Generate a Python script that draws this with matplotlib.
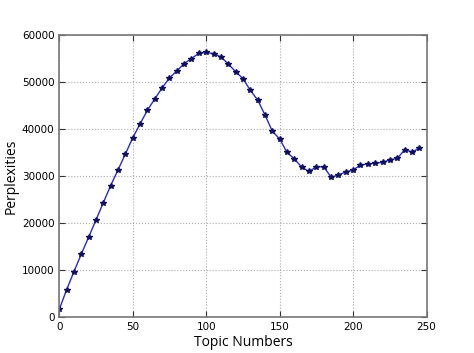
import matplotlib
matplotlib.use('Agg')
import matplotlib.pyplot as plt

# topic counts and measured perplexity
topics = list(range(0, 250, 5))
perplexities = [1600, 5800, 9650, 13400, 17000, 20650, 24350, 28000, 31350, 34700,
                38150, 41130, 44040, 46450, 48790, 50920, 52410, 53970, 55040, 56170,
                56340, 56100, 55390, 53900, 52270, 50780, 48300, 46240, 43050, 39570,
                37940, 35040, 33690, 31910, 30990, 31990, 31990, 29790, 30210, 30920,
                31280, 32410, 32550, 32770, 32910, 33480, 33760, 35600, 35180, 35890]
x_ticks = [0, 50, 100, 150, 200, 250]
y_ticks = [0, 10000, 20000, 30000, 40000, 50000, 60000]

fig = plt.figure(figsize=(4.74, 3.53), dpi=100)
ax = fig.add_axes([0.125, 0.102, 0.775, 0.798])

ax.plot(topics, perplexities, color='#2a2ad0', linewidth=1.0,
        marker='*', markersize=4, markerfacecolor='#101060',
        markeredgecolor='#101060')

ax.set_xlim(0, 250)
ax.set_ylim(0, 60000)
ax.set_xticks(x_ticks)
ax.set_yticks(y_ticks)
ax.grid(True, linestyle=':', color='#aaaaaa', linewidth=0.8)

for side in ax.spines.values():
    side.set_color('#777777')
    side.set_linewidth(1.2)
ax.tick_params(direction='in', length=4, width=0.8, colors='#333333',
               top=True, right=True, labelsize=7.5, labelcolor='black')

ax.set_xlabel('Topic Numbers', fontsize=10, family='Open Sans', labelpad=2)
ax.set_ylabel('Perplexities', fontsize=10, family='Open Sans', labelpad=2)

fig.savefig('out.png', dpi=100)
